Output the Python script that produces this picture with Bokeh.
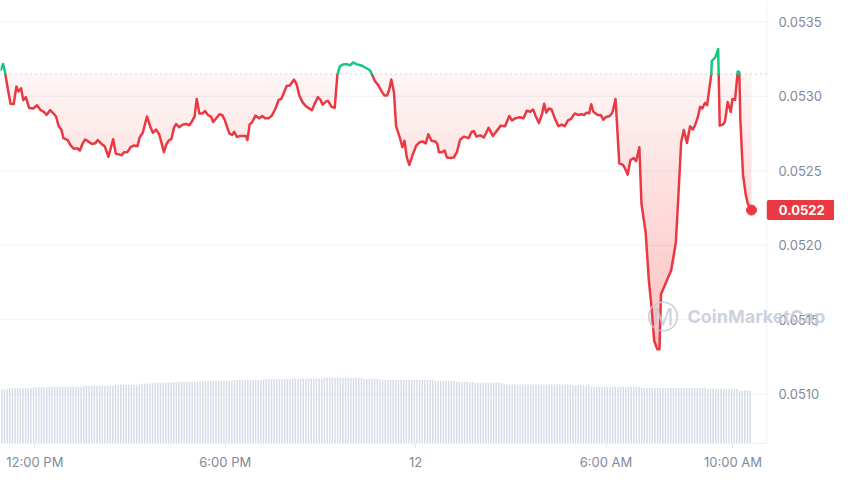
import numpy as np
from bokeh.plotting import figure
from bokeh.models import Range1d, FixedTicker, Span, Label
from bokeh.core.properties import value
from bokeh.embed import file_html
from bokeh.resources import INLINE

# ---------------- data ----------------
# time = minutes after 10:55 AM (day 11)
minutes = [
    0, 5, 9, 14, 19, 25, 30, 34, 39, 43,
    48, 54, 62, 69, 76, 82, 87, 94, 101, 105,
    110, 115, 119, 127, 133, 139, 145, 150, 155, 160,
    166, 173, 179, 184, 191, 197, 200, 204, 209, 213,
    218, 224, 229, 234, 240, 246, 252, 259, 263, 269,
    277, 283, 288, 294, 300, 305, 309, 314, 319, 323,
    328, 332, 338, 345, 351, 357, 362, 367, 371, 376,
    382, 387, 392, 398, 402, 408, 414, 419, 424, 429,
    433, 438, 442, 447, 453, 460, 464, 467, 471, 476,
    482, 489, 495, 500, 507, 513, 520, 526, 531, 535,
    541, 547, 555, 560, 565, 571, 577, 581, 589, 594,
    600, 605, 609, 616, 620, 626, 632, 637, 642, 648,
    655, 661, 667, 673, 679, 685, 692, 699, 704, 708,
    714, 721, 726, 731, 735, 739, 744, 748, 755, 760,
    764, 768, 773, 779, 786, 792, 798, 804, 809, 815,
    822, 826, 829, 835, 840, 844, 852, 857, 863, 869,
    876, 885, 891, 895, 900, 907, 914, 923, 931, 938,
    946, 954, 962, 967, 974, 982, 989, 995, 1002, 1007,
    1011, 1018, 1024, 1028, 1032, 1037, 1042, 1048, 1055, 1061,
    1067, 1073, 1079, 1086, 1092, 1098, 1104, 1108, 1113, 1117,
    1121, 1129, 1135, 1140, 1144, 1152, 1157, 1163, 1166, 1170,
    1177, 1182, 1186, 1191, 1197, 1202, 1208, 1212, 1220, 1226,
    1231, 1236, 1242, 1246, 1249, 1257, 1262, 1268, 1273, 1277,
    1282, 1287, 1292, 1298, 1304, 1309, 1313, 1318, 1323, 1327,
    1332, 1336, 1339, 1344, 1345, 1352, 1357, 1360, 1366, 1370,
    1375, 1381, 1384, 1389, 1394, 1397, 1399, 1404, 1409, 1413,
    1420,
]
prices = [
    0.053175, 0.053216, 0.053151, 0.053047, 0.052950, 0.052948, 0.053065, 0.053032, 0.053054, 0.052974,
    0.052994, 0.052922, 0.052918, 0.052940, 0.052907, 0.052896, 0.052875, 0.052907, 0.052881, 0.052864,
    0.052799, 0.052777, 0.052719, 0.052706, 0.052669, 0.052647, 0.052651, 0.052636, 0.052680, 0.052710,
    0.052697, 0.052680, 0.052684, 0.052706, 0.052680, 0.052664, 0.052636, 0.052593, 0.052658, 0.052712,
    0.052615, 0.052610, 0.052604, 0.052625, 0.052625, 0.052658, 0.052669, 0.052664, 0.052723, 0.052755,
    0.052864, 0.052799, 0.052755, 0.052777, 0.052745, 0.052680, 0.052625, 0.052680, 0.052706, 0.052712,
    0.052788, 0.052814, 0.052792, 0.052810, 0.052814, 0.052805, 0.052831, 0.052864, 0.052982, 0.052885,
    0.052885, 0.052901, 0.052875, 0.052864, 0.052827, 0.052853, 0.052879, 0.052875, 0.052842, 0.052788,
    0.052749, 0.052740, 0.052762, 0.052727, 0.052734, 0.052734, 0.052734, 0.052706, 0.052810, 0.052827,
    0.052870, 0.052853, 0.052868, 0.052853, 0.052853, 0.052870, 0.052918, 0.052976, 0.052982, 0.053015,
    0.053069, 0.053073, 0.053112, 0.053080, 0.053005, 0.052961, 0.052935, 0.052924, 0.052907, 0.052950,
    0.052994, 0.052976, 0.052944, 0.052966, 0.052966, 0.052929, 0.052922, 0.053145, 0.053203, 0.053214,
    0.053216, 0.053208, 0.053227, 0.053216, 0.053210, 0.053203, 0.053188, 0.053173, 0.053134, 0.053102,
    0.053076, 0.053031, 0.053005, 0.053005, 0.053044, 0.053112, 0.053026, 0.052799, 0.052723, 0.052658,
    0.052701, 0.052593, 0.052539, 0.052604, 0.052669, 0.052690, 0.052697, 0.052684, 0.052745, 0.052701,
    0.052697, 0.052680, 0.052625, 0.052625, 0.052636, 0.052589, 0.052586, 0.052589, 0.052625, 0.052708,
    0.052729, 0.052719, 0.052762, 0.052766, 0.052729, 0.052738, 0.052723, 0.052788, 0.052734, 0.052766,
    0.052803, 0.052799, 0.052868, 0.052838, 0.052853, 0.052859, 0.052853, 0.052903, 0.052896, 0.052911,
    0.052875, 0.052820, 0.052881, 0.052950, 0.052890, 0.052918, 0.052911, 0.052853, 0.052799, 0.052810,
    0.052799, 0.052838, 0.052849, 0.052885, 0.052875, 0.052879, 0.052875, 0.052890, 0.052885, 0.052946,
    0.052896, 0.052875, 0.052875, 0.052842, 0.052859, 0.052868, 0.052890, 0.052982, 0.052799, 0.052550,
    0.052539, 0.052507, 0.052474, 0.052571, 0.052586, 0.052565, 0.052658, 0.052279, 0.052084, 0.051760,
    0.051586, 0.051359, 0.051301, 0.051301, 0.051673, 0.051738, 0.051781, 0.051829, 0.051933, 0.052019,
    0.052344, 0.052690, 0.052773, 0.052686, 0.052799, 0.052777, 0.052803, 0.052853, 0.052929, 0.052918,
    0.052955, 0.052940, 0.053015, 0.053145, 0.053236, 0.053264, 0.053318, 0.052803, 0.052810, 0.052831,
    0.052961, 0.052896, 0.052982, 0.052976, 0.053167, 0.053162, 0.052842, 0.052474, 0.052344, 0.052279,
    0.052236,
]
# volume bars (5-minute bars), as step levels and how many bars share each level
vol_levels = [27.85, 28.5, 29.0, 29.35, 29.85, 30.35, 30.85, 31.35, 31.85, 32.35,
              32.85, 33.15, 33.65, 34.0, 33.5, 33.0, 32.35, 31.85, 31.35, 30.65,
              30.15, 29.35, 28.65, 28.15, 27.35]
vol_counts = [3, 9, 6, 13, 12, 9, 5, 8, 11, 12,
              11, 11, 12, 15, 6, 21, 8, 7, 11, 25,
              8, 19, 25, 12, 5]
bar_minutes = 5
baseline_price = 0.05315          # opening price (dotted reference line)
last_price_label = "0.0522"
x_tick_minutes = [65, 425, 785, 1145, 1385]
x_tick_labels = ["12:00 PM", "6:00 PM", "12", "6:00 AM", "10:00 AM"]
y_ticks = [0.0510, 0.0515, 0.0520, 0.0525, 0.0530, 0.0535]
y_tick_labels = ["0.0510", "0.0515", "0.0520", "0.0525", "0.0530", "0.0535"]

# ---------------- layout / styling ----------------
RED = "#ea3943"
GREEN = "#16c784"
GRID = "#eff2f5"
LABEL = "#808a9d"
FONT = "Inter"
PLOT_END = 1449      # right edge of the chart area (minutes); price scale sits to its right
VIEW_END = 1577
LABEL_X = 1471

p = figure(width=834, height=475, output_backend="svg", toolbar_location=None,
           x_range=Range1d(0, VIEW_END), y_range=Range1d(0.050669, 0.053643),
           y_axis_location=None,
           min_border_left=0, min_border_top=0, min_border_right=0, min_border_bottom=32)
p.outline_line_color = None
p.background_fill_color = "white"
p.border_fill_color = "white"
p.extra_y_ranges = {"vol": Range1d(0, 229)}
p.xgrid.grid_line_color = None
p.ygrid.grid_line_color = None

# x axis
p.xaxis.ticker = FixedTicker(ticks=x_tick_minutes)
p.xaxis.major_label_overrides = dict(zip(x_tick_minutes, x_tick_labels))
p.xaxis.bounds = (0, PLOT_END)
p.xaxis.axis_line_color = GRID
p.xaxis.major_tick_line_color = "#e3e6ec"
p.xaxis.major_tick_in = 0
p.xaxis.major_tick_out = 4
p.xaxis.minor_tick_line_color = None
p.xaxis.major_label_standoff = 6
p.xaxis.major_label_text_font = FONT
p.xaxis.major_label_text_font_size = "13px"
p.xaxis.major_label_text_color = LABEL

# horizontal grid lines and price scale on the right
n_y = len(y_ticks)
p.segment(x0=[0] * n_y, x1=[PLOT_END] * n_y, y0=y_ticks, y1=y_ticks,
          line_color=GRID, line_width=1)
p.add_layout(Span(location=PLOT_END, dimension="height", line_color=GRID,
                  line_width=1, level="underlay"))
p.text(x=[LABEL_X] * n_y, y=y_ticks, text=y_tick_labels, text_font=value(FONT),
       text_font_size="13px", text_color=LABEL, text_baseline="middle", text_align="left")

# ---------------- volume ----------------
vol = np.repeat(np.array(vol_levels), np.array(vol_counts))
vx = bar_minutes * np.arange(len(vol)) + bar_minutes / 2
p.vbar(x=vx, top=vol, bottom=0, width=2.8, y_range_name="vol",
       fill_color="#d6dce8", line_color=None)

# ---------------- price ----------------
x = np.array(minutes, dtype=float)
y = np.array(prices, dtype=float)


def add_crossings(xa, ya, level):
    xs, ys = [xa[0]], [ya[0]]
    for i in range(1, len(xa)):
        y0, y1 = ya[i - 1], ya[i]
        if (y0 - level) * (y1 - level) < 0:
            t = (level - y0) / (y1 - y0)
            xs.append(xa[i - 1] + t * (xa[i] - xa[i - 1]))
            ys.append(level)
        xs.append(xa[i])
        ys.append(ya[i])
    return np.array(xs), np.array(ys)


# gradient-like fill between the line and the opening price (stacked translucent layers)
xb, yb = add_crossings(x, y, baseline_price)
p.varea(x=xb, y1=np.minimum(yb, baseline_price), y2=np.full_like(yb, baseline_price),
        fill_color=RED, fill_alpha=0.05)
n_layers = 28
levels = np.linspace(baseline_price, 0.0513, n_layers + 1)[1:]
for lv in levels:
    xl, yl = add_crossings(x, y, lv)
    p.varea(x=xl, y1=np.minimum(yl, lv), y2=np.full_like(yl, lv),
            fill_color=RED, fill_alpha=0.0114)

# dotted opening-price line
p.segment(x0=[0], x1=[PLOT_END], y0=[baseline_price], y1=[baseline_price],
          line_color="#a3abbb", line_width=1, line_dash="1 4")

red_y = np.where(yb <= baseline_price + 1e-12, yb, np.nan)
green_y = np.where(yb >= baseline_price - 1e-12, yb, np.nan)
p.line(xb, red_y, line_color=RED, line_width=2.5, line_join="round", line_cap="round")
p.line(xb, green_y, line_color=GREEN, line_width=2.5, line_join="round", line_cap="round")
p.scatter([x[-1]], [y[-1]], size=10, fill_color=RED, line_color=RED)

# watermark
p.add_layout(Label(x=662, y=127, x_units="screen", y_units="screen", text="\u24c2",
                   text_font="DejaVu Sans", text_font_size="32px", text_color="#c3cad8",
                   text_alpha=0.85, text_align="center", text_baseline="middle"))
p.add_layout(Label(x=687, y=127, x_units="screen", y_units="screen", text="CoinMarketCap",
                   text_font=FONT, text_font_size="18px", text_font_style="bold",
                   text_color="#c3cad8", text_alpha=0.85, text_align="left",
                   text_baseline="middle"))

# last-price tag on the price scale (box starts at the chart's right edge)
p.add_layout(Label(x=PLOT_END, y=y[-1], text=last_price_label, text_font=FONT,
                   text_font_size="13px", text_font_style="bold", text_color="white",
                   text_baseline="middle", background_fill_color=RED, border_radius=2,
                   padding=dict(left=12, right=12, top=5, bottom=5)))

open("out.html", "w").write(file_html(p, INLINE))
